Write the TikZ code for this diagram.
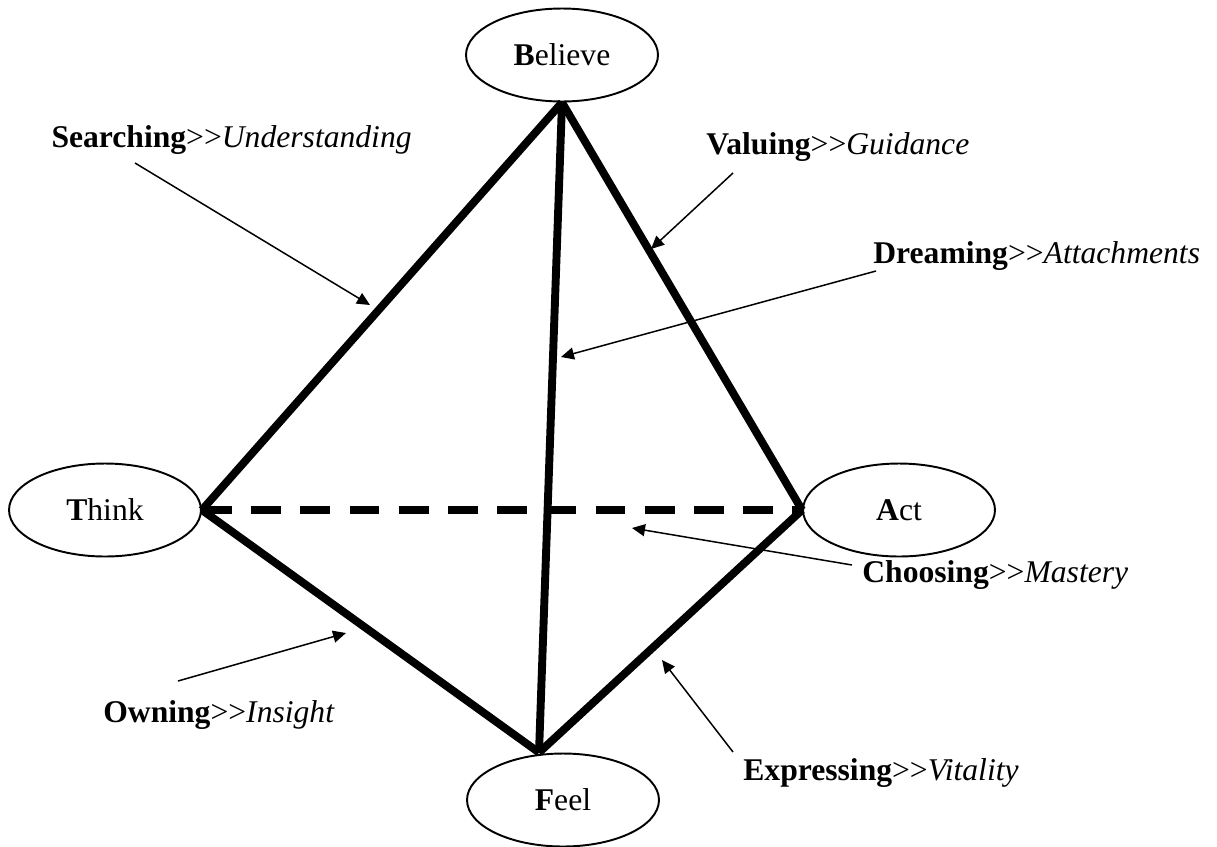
\documentclass[tikz,border=0pt]{standalone}
\usepackage{fontspec}
\setmainfont{Liberation Serif}
\usetikzlibrary{shapes.geometric,arrows.meta}

\begin{document}
\begin{tikzpicture}[x=0.02cm,y=-0.02cm,
    every node/.style={font=\fontsize{18}{22}\selectfont},
    corner/.style={draw,ellipse,line width=1.1pt,minimum width=3.84cm,minimum height=1.86cm,inner sep=0pt},
    ridge/.style={line width=4.5pt},
    hidden/.style={ridge,dash pattern=on 17pt off 11pt},
    pointer/.style={line width=0.85pt,-{Triangle[length=0.26cm,width=0.24cm]}},
    tag/.style={inner sep=0pt}]
    \useasboundingbox (0,0) rectangle (1217,846);

    % the four corners
    \node[corner] (believe) at (562,55) {\textbf{B}elieve};
    \node[corner] (think) at (105,510) {\textbf{T}hink};
    \node[corner] (act) at (899,510) {\textbf{A}ct};
    \node[corner] (feel) at (563,800) {\textbf{F}eel};

    % the pyramid
    \draw[hidden] (think.east) -- (act.west);
    \draw[ridge] (believe.south) -- (think.east);
    \draw[ridge] (believe.south) -- (act.west);
    \draw[ridge] (believe.south) -- ([xshift=-0.48cm]feel.north);
    \draw[ridge] (think.east) -- ([xshift=-0.48cm]feel.north);
    \draw[ridge] (act.west) -- ([xshift=-0.48cm]feel.north);

    % labels
    \node[tag,anchor=base east] (searching) at (412,147) {\textbf{Searching}{>}{>}\textit{Understanding}};
    \node[tag,anchor=base west] (valuing) at (706,154) {\textbf{Valuing}{>}{>}\textit{Guidance}};
    \node[tag,anchor=base west] (dreaming) at (873,263) {\textbf{Dreaming}{>}{>}\textit{Attachments}};
    \node[tag,anchor=base west] (choosing) at (862,582) {\textbf{Choosing}{>}{>}\textit{Mastery}};
    \node[tag,anchor=base west] (owning) at (103,722) {\textbf{Owning}{>}{>}\textit{Insight}};
    \node[tag,anchor=base west] (expressing) at (743,780) {\textbf{Expressing}{>}{>}\textit{Vitality}};

    % arrow ends
    \coordinate (s1) at (135,163);
    \coordinate (s2) at (370,305);
    \coordinate (v1) at (733,173);
    \coordinate (v2) at (651,249);
    \coordinate (d1) at (876,271);
    \coordinate (d2) at (561,357);
    \coordinate (c1) at (852,565);
    \coordinate (c2) at (632,528);
    \coordinate (o1) at (178,681);
    \coordinate (o2) at (346,633);
    \coordinate (e1) at (733,752);
    \coordinate (e2) at (662,660);

    \draw[pointer] (s1) -- (s2);
    \draw[pointer] (v1) -- (v2);
    \draw[pointer] (d1) -- (d2);
    \draw[pointer] (c1) -- (c2);
    \draw[pointer] (o1) -- (o2);
    \draw[pointer] (e1) -- (e2);
\end{tikzpicture}
\end{document}
